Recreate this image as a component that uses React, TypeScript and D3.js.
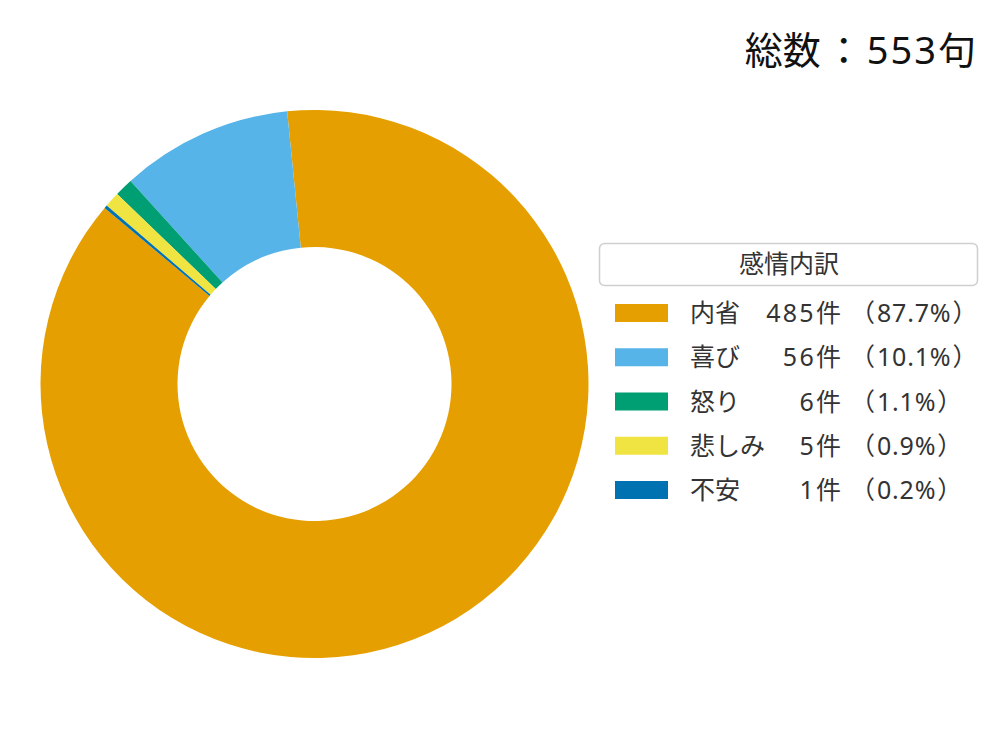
import { useEffect, useRef } from 'react';
import * as d3 from 'd3';

const categories = ['内省', '喜び', '怒り', '悲しみ', '不安'];
const counts = [485, 56, 6, 5, 1];
const percents = ['87.7', '10.1', '1.1', '0.9', '0.2'];
const colors = ['#E69F00', '#56B4E9', '#009E73', '#F0E442', '#0072B2'];
const total = 553;

export default function App() {
  const svgRef = useRef<SVGSVGElement>(null);

  useEffect(() => {
    if (!svgRef.current) return;
    const svg = d3.select(svgRef.current);
    svg.selectAll('*').remove();

    const font = '"Noto Sans", "Noto Sans CJK JP", sans-serif';
    const cx = 314.5;
    const cy = 384;
    const outer = 274;
    const inner = 137;

    const data = categories.map((c, i) => ({ c, v: counts[i], color: colors[i] }));

    // matplotlib startangle=140, counterclockwise
    const start = (-50 * Math.PI) / 180;
    const pie = d3.pie<any>()
      .sort(null)
      .value(d => d.v)
      .startAngle(start)
      .endAngle(start - 2 * Math.PI);

    const arc = d3.arc<any>().innerRadius(inner).outerRadius(outer);

    const g = svg.append('g').attr('transform', `translate(${cx}, ${cy})`);
    g.selectAll('path')
      .data(pie(data))
      .join('path')
      .attr('d', arc)
      .attr('fill', d => d.data.color);

    // Total
    const title = svg.append('text')
      .attr('x', 976)
      .attr('y', 64)
      .attr('text-anchor', 'end')
      .attr('font-family', font)
      .attr('font-size', 38)
      .attr('fill', '#111');
    title.append('tspan').text('総数');
    title.append('tspan').attr('dx', 4).text('：');
    title.append('tspan').attr('dx', 4).attr('letter-spacing', 2).text(`${total}`);
    title.append('tspan').text('句');

    // Legend title box
    svg.append('rect')
      .attr('x', 599.5)
      .attr('y', 243.5)
      .attr('width', 378)
      .attr('height', 42)
      .attr('rx', 5)
      .attr('fill', '#fff')
      .attr('stroke', '#cfcfcf')
      .attr('stroke-width', 1.5);

    svg.append('text')
      .attr('x', 789)
      .attr('y', 273)
      .attr('text-anchor', 'middle')
      .attr('font-family', font)
      .attr('font-size', 25)
      .attr('fill', '#333')
      .text('感情内訳');

    const rowY = d3.scaleLinear().domain([0, 4]).range([313, 490]);

    const rows = svg.append('g').attr('font-family', font).attr('font-size', 25).attr('fill', '#333');
    data.forEach((d, i) => {
      const y = rowY(i);
      rows.append('rect')
        .attr('x', 615)
        .attr('y', y - 9)
        .attr('width', 53)
        .attr('height', 18)
        .attr('fill', d.color);
      rows.append('text')
        .attr('x', 690)
        .attr('y', y + 9)
        .text(d.c);

      const cnt = rows.append('text')
        .attr('x', 841)
        .attr('y', y + 9)
        .attr('text-anchor', 'end');
      cnt.append('tspan').attr('letter-spacing', 2.3).text(`${counts[i]}`);
      cnt.append('tspan').text('件');

      const pct = rows.append('text')
        .attr('x', 841)
        .attr('y', y + 9);
      pct.append('tspan').attr('dx', 9).text('（');
      pct.append('tspan').attr('dx', 2).attr('letter-spacing', 0.8).text(`${percents[i]}%`);
      pct.append('tspan').attr('dx', 1).text('）');
    });
  }, []);

  return (
    <svg
      ref={svgRef}
      width={1000}
      height={741}
      style={{ position: 'absolute', left: 0, top: 0, background: '#fff' }}
    />
  );
}
